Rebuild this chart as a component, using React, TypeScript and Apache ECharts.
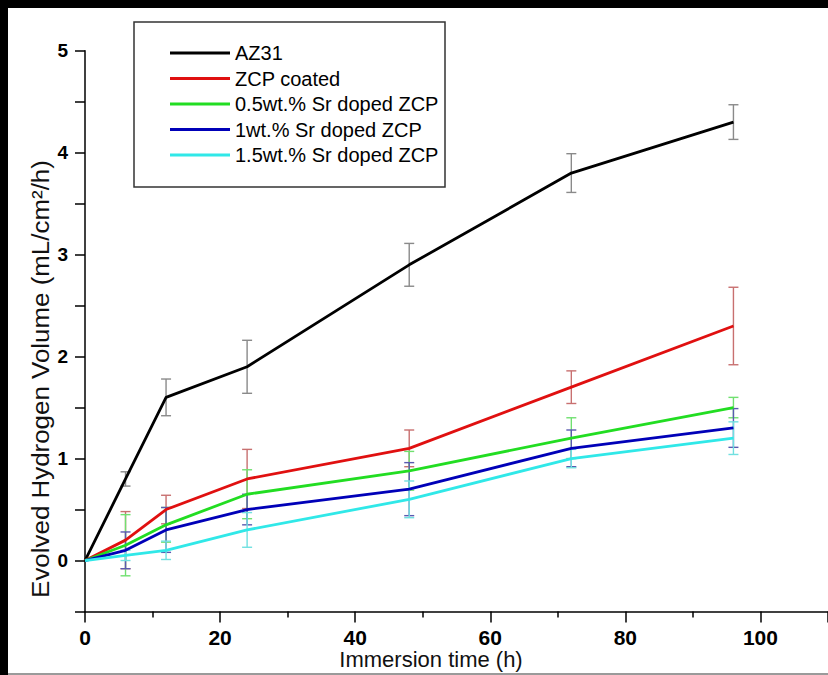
import React, { useEffect, useRef } from "react";
import * as echarts from "echarts";

const hours = [0, 6, 12, 24, 48, 72, 96];
const seriesNames = [
  "AZ31",
  "ZCP coated",
  "0.5wt.% Sr doped ZCP",
  "1wt.% Sr doped ZCP",
  "1.5wt.% Sr doped ZCP",
];
const az31 = [0, 0.8, 1.6, 1.9, 2.9, 3.8, 4.3];
const az31Err = [0, 0.07, 0.18, 0.26, 0.21, 0.19, 0.17];
const zcp = [0, 0.2, 0.5, 0.8, 1.1, 1.7, 2.3];
const zcpErr = [0, 0.28, 0.14, 0.29, 0.18, 0.16, 0.38];
const sr05 = [0, 0.15, 0.35, 0.65, 0.88, 1.2, 1.5];
const sr05Err = [0, 0.3, 0.17, 0.24, 0.19, 0.2, 0.1];
const sr1 = [0, 0.1, 0.3, 0.5, 0.7, 1.1, 1.3];
const sr1Err = [0, 0.18, 0.22, 0.15, 0.26, 0.18, 0.19];
const sr15 = [0, 0.05, 0.1, 0.3, 0.6, 1.0, 1.2];
const sr15Err = [0, 0.05, 0.09, 0.17, 0.18, 0.09, 0.16];

const xTitle = "Immersion time (h)";
const yTitle = "Evolved Hydrogen Volume (mL/cm\u00B2/h)";

const lineColors = ["#000000", "#e01010", "#22dd22", "#0000b8", "#30e8e8"];
const errColors = ["#8a8a8a", "#c87070", "#70e070", "#5a5ab0", "#70e0e0"];

const FONT = '"Liberation Sans", Arial, sans-serif';

export default function App() {
  const ref = useRef<HTMLDivElement>(null);

  useEffect(() => {
    if (!ref.current) return;
    const chart = echarts.init(ref.current, undefined, { renderer: "svg" });
    const values = [az31, zcp, sr05, sr1, sr15];
    const errs = [az31Err, zcpErr, sr05Err, sr1Err, sr15Err];

    const lineSeries = values.map((vals, i) => ({
      name: seriesNames[i],
      type: "line",
      data: hours.map((h, j) => [h, vals[j]]),
      showSymbol: false,
      symbol: "none",
      lineStyle: { color: lineColors[i], width: 2.8 },
      itemStyle: { color: lineColors[i] },
      z: 3,
    }));

    const errSeries = values.map((vals, i) => ({
      name: seriesNames[i] + " error",
      type: "custom",
      z: 2,
      silent: true,
      data: hours
        .map((h, j) => [h, vals[j] - errs[i][j], vals[j] + errs[i][j]])
        .filter((_, j) => errs[i][j] > 0),
      encode: { x: 0, y: [1, 2] },
      renderItem: (_params: any, api: any) => {
        const x = api.value(0);
        const lo = api.coord([x, api.value(1)]);
        const hi = api.coord([x, api.value(2)]);
        const w = 5;
        const style = { stroke: errColors[i], lineWidth: 1.4 };
        return {
          type: "group",
          children: [
            { type: "line", shape: { x1: lo[0], y1: lo[1], x2: hi[0], y2: hi[1] }, style },
            { type: "line", shape: { x1: hi[0] - w, y1: hi[1], x2: hi[0] + w, y2: hi[1] }, style },
            { type: "line", shape: { x1: lo[0] - w, y1: lo[1], x2: lo[0] + w, y2: lo[1] }, style },
          ],
        };
      },
    }));

    chart.setOption({
      animation: false,
      backgroundColor: "#ffffff",
      grid: { left: 85, top: 50.7, right: 0, bottom: 63.5, containLabel: false },
      xAxis: {
        type: "value",
        min: 0,
        max: 110,
        interval: 20,
        axisLine: { show: true, onZero: false, lineStyle: { color: "#000", width: 1.5 } },
        axisTick: { show: true, inside: false, length: 11, lineStyle: { color: "#000", width: 1.5 } },
        minorTick: { show: true, splitNumber: 2, length: 6, lineStyle: { color: "#000", width: 1.5 } },
        splitLine: { show: false },
        minorSplitLine: { show: false },
        axisLabel: {
          show: true,
          margin: 15,
          fontSize: 21,
          fontWeight: "bold",
          fontFamily: FONT,
          color: "#000",
          showMaxLabel: false,
        },
      },
      yAxis: {
        type: "value",
        min: -0.5,
        max: 5,
        interval: 0.5,
        axisLine: { show: true, onZero: false, lineStyle: { color: "#000", width: 1.5 } },
        axisTick: { show: true, inside: false, length: 10, lineStyle: { color: "#000", width: 1.5 } },
        splitLine: { show: false },
        axisLabel: {
          show: true,
          margin: 17,
          fontSize: 19,
          fontWeight: "bold",
          fontFamily: FONT,
          color: "#000",
          formatter: (v: number) => (Math.abs(v - Math.round(v)) < 1e-9 ? String(Math.round(v)) : ""),
        },
      },
      legend: {
        data: seriesNames,
        orient: "vertical",
        left: 170,
        top: 40.5,
        padding: 0,
        icon: "rect",
        itemWidth: 60,
        itemHeight: 3,
        itemGap: 0.5,
        textStyle: { fontSize: 20, lineHeight: 25, fontFamily: FONT, color: "#000" },
        selectedMode: false,
        z: 10,
      },
      graphic: [
        { type: "rect", shape: { x: 0, y: 0, width: 828, height: 8 }, style: { fill: "#000" }, z: 20 },
        { type: "rect", shape: { x: 0, y: 0, width: 8, height: 675 }, style: { fill: "#000" }, z: 20 },
        { type: "rect", shape: { x: 0, y: 673, width: 828, height: 2 }, style: { fill: "#9a9a9a" }, z: 19 },
        {
          type: "rect",
          shape: { x: 134, y: 22, width: 311, height: 165 },
          style: { fill: "#fff", stroke: "#333", lineWidth: 1.5 },
          z: 5,
        },
        {
          type: "text",
          x: 431,
          y: 659,
          style: {
            text: xTitle,
            fontSize: 22,
            fontFamily: FONT,
            fill: "#111",
            align: "center",
            verticalAlign: "middle",
          },
          z: 20,
        },
        {
          type: "text",
          x: 40,
          y: 379,
          rotation: Math.PI / 2,
          scaleX: 1.08,
          style: {
            text: yTitle,
            fontSize: 24,
            fontFamily: FONT,
            fill: "#111",
            align: "center",
            verticalAlign: "middle",
          },
          z: 20,
        },
      ],
      series: [...errSeries, ...lineSeries],
    });

    return () => chart.dispose();
  }, []);

  return (
    <div
      ref={ref}
      style={{ position: "fixed", left: 0, top: 0, width: 828, height: 675, background: "#fff" }}
    />
  );
}
